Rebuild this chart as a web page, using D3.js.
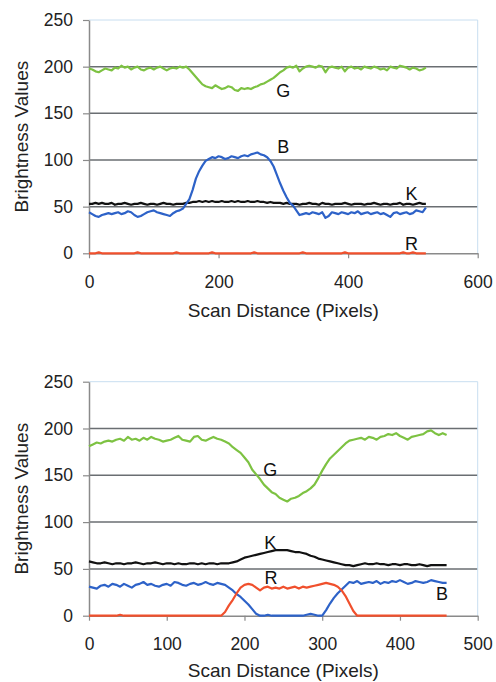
<!DOCTYPE html>
<html>
<head>
<meta charset="utf-8">
<script src="https://cdn.jsdelivr.net/npm/d3@7"></script>
<style>
  body { margin: 0; background: #fff; }
  svg text { font-family: "Liberation Sans", Arial, Helvetica, sans-serif; }
</style>
</head>
<body>
<div id="chart"></div>
<script>
// ---- top scan: samples every 5 px, 0..520 ----
var topStep = 5;
var topG = [
  198,197,195,194,196,198,197,196,199,198,
  201,199,200,197,199,200,197,196,198,199,
  197,199,200,198,196,198,199,198,200,199,
  200,197,193,189,185,181,179,178,177,180,
  178,176,177,179,178,175,174,177,176,177,
  176,178,179,181,182,184,186,188,191,194,
  196,199,200,199,201,195,198,200,201,200,
  199,201,200,194,199,200,199,198,200,195,
  199,200,198,199,197,200,199,198,200,199,
  197,198,196,200,199,198,201,200,199,197,
  199,198,196,197,199];
var topB = [
  44,42,40,39,41,42,43,42,43,44,
  42,43,45,44,41,39,40,42,44,45,
  46,44,43,42,41,40,43,45,46,48,
  53,58,68,80,88,94,99,101,103,102,
  104,103,101,102,104,103,102,104,105,104,
  106,107,108,106,105,103,99,93,84,75,
  67,60,54,51,46,41,42,43,42,44,
  43,42,44,38,40,44,43,42,44,43,
  42,44,43,45,42,43,44,42,43,44,
  42,43,41,39,43,44,42,43,44,42,
  43,46,45,44,49];
var topK = [
  53,53,54,53,54,53,53,54,52,53,
  53,54,53,52,53,53,54,53,52,53,
  53,52,53,54,53,53,52,53,53,53,
  54,54,55,55,56,55,56,55,56,55,
  55,56,55,55,56,55,56,55,55,56,
  55,55,56,55,55,54,55,54,54,54,
  53,54,53,53,53,52,53,53,54,53,
  53,52,54,53,53,52,53,53,53,54,
  53,52,53,53,53,52,53,53,54,53,
  52,53,53,52,53,53,54,52,53,53,
  52,53,54,53,53];
var topR = [
  0,0,0,1,0,0,0,0,0,0,
  0,0,0,0,0,1,0,0,0,0,
  0,0,0,0,0,0,0,1,0,0,
  0,0,0,0,0,0,0,0,1,0,
  0,0,0,0,0,0,0,0,0,0,
  0,1,0,0,0,0,0,0,0,0,
  0,0,0,0,0,0,1,0,0,0,
  0,0,0,0,0,0,0,0,0,1,
  0,0,0,0,0,0,0,0,0,0,
  0,0,0,0,0,0,0,1,0,0,
  1,0,0,0,0];

// ---- bottom scan: samples every 5 px, 0..460 ----
var botStep = 5;
var botG = [
  181,183,185,184,186,187,186,188,189,187,
  191,188,189,187,190,188,191,189,188,186,
  187,188,190,192,188,187,186,191,192,188,
  187,189,191,189,188,186,184,180,177,174,
  169,164,156,151,146,140,136,132,130,126,
  124,122,125,126,128,131,133,136,140,147,
  155,162,168,172,176,180,184,187,188,189,
  190,188,191,190,188,191,192,194,193,195,
  192,190,188,191,192,193,194,197,198,195,
  193,195,193];
var botK = [
  58,57,56,56,57,56,55,56,56,55,
  56,56,57,56,55,56,56,57,56,55,
  56,56,55,56,55,55,56,56,55,56,
  55,56,56,55,56,56,56,57,58,60,
  62,63,64,65,66,67,68,69,70,70,
  70,70,69,68,68,67,66,64,63,61,
  60,59,58,57,56,55,54,54,53,54,
  55,56,55,55,56,55,55,54,55,55,
  54,55,55,54,54,55,54,53,54,54,
  54,54,54];
var botB = [
  31,30,29,32,33,31,34,33,31,34,
  32,30,33,34,36,33,34,32,31,33,
  34,32,36,35,33,32,34,35,33,34,
  36,34,33,35,34,33,30,27,23,20,
  16,12,7,2,0,0,1,0,0,0,
  0,0,0,0,0,0,1,2,1,0,
  0,6,13,19,24,28,32,36,35,37,
  34,35,36,35,37,34,36,35,37,36,
  38,36,34,35,37,36,35,36,38,37,
  36,35,35];
var botR = [
  0,0,0,0,0,0,0,0,1,0,
  0,0,0,0,0,0,0,0,0,0,
  0,0,0,0,0,0,0,0,0,0,
  0,0,0,0,0,4,11,17,24,30,
  33,34,33,30,27,30,31,29,30,29,
  31,29,30,31,29,31,30,31,32,33,
  34,35,34,33,31,27,21,13,5,0,
  0,0,0,0,0,0,0,0,0,0,
  0,0,0,0,0,0,0,0,0,0,
  0,0,0];

var yTicks = [0, 50, 100, 150, 200, 250];
var topXTicks = [0, 200, 400, 600];
var botXTicks = [0, 100, 200, 300, 400, 500];

// series labels, in data coordinates [x, value]
var topLabels = [["G", 300, 174], ["B", 300, 114], ["K", 498, 64], ["R", 498, 10]];
var botLabels = [["G", 233, 156], ["K", 233, 78], ["R", 234, 41], ["B", 454, 23]];

var colors = { R: "#f0502d", G: "#7dc242", B: "#2d62c8", K: "#111111" };

var width = 496, height = 682;
var svg = d3.select("#chart").append("svg")
    .attr("width", width)
    .attr("height", height);

function drawPanel(p) {
  var left = 89, right = 477.7;
  var x = d3.scaleLinear().domain([0, p.xMax]).range([left, right]);
  var y = d3.scaleLinear().domain([0, 250]).range([p.bottom, p.top]);
  var g = svg.append("g");

  // gridlines
  g.selectAll("line.grid")
      .data([50, 100, 150, 200])
      .enter().append("line")
      .attr("class", "grid")
      .attr("x1", left).attr("x2", right)
      .attr("y1", function(d) { return y(d); })
      .attr("y2", function(d) { return y(d); })
      .attr("stroke", "#6a6e72")
      .attr("stroke-width", 1.5);

  // light plot-area border, top and right
  g.append("path")
      .attr("d", "M" + left + "," + y(250) + "H" + right + "V" + y(0))
      .attr("fill", "none")
      .attr("stroke", "#c8def0")
      .attr("stroke-width", 1);

  // axes
  var ya = g.append("g")
      .attr("transform", "translate(" + left + ",0)")
      .call(d3.axisLeft(y).tickValues(yTicks).tickSize(6).tickSizeOuter(0).tickPadding(10));
  var xa = g.append("g")
      .attr("transform", "translate(0," + y(0) + ")")
      .call(d3.axisBottom(x).tickValues(p.xTicks).tickSize(5).tickSizeOuter(0).tickPadding(17));
  [ya, xa].forEach(function(a) {
    a.select(".domain").attr("stroke", "#8a8a8a").attr("stroke-width", 1.5);
    a.selectAll(".tick line").attr("stroke", "#8a8a8a").attr("stroke-width", 1.2);
    a.selectAll(".tick text")
        .attr("font-size", "17.5px")
        .attr("font-family", "Liberation Sans, Arial, sans-serif")
        .attr("fill", "#222");
  });

  // data lines
  var line = d3.line()
      .x(function(d, i) { return x(i * p.step); })
      .y(function(d) { return y(d); });

  p.series.forEach(function(s) {
    g.append("path")
        .datum(s.values)
        .attr("fill", "none")
        .attr("stroke", colors[s.key])
        .attr("stroke-width", 2.2)
        .attr("stroke-linejoin", "round")
        .attr("d", line);
  });

  // series letters
  g.selectAll("text.lab")
      .data(p.labels)
      .enter().append("text")
      .attr("class", "lab")
      .attr("x", function(d) { return x(d[1]); })
      .attr("y", function(d) { return y(d[2]); })
      .attr("dy", "0.35em")
      .attr("text-anchor", "middle")
      .attr("font-size", "18px")
      .attr("fill", "#111")
      .text(function(d) { return d[0]; });

  // titles
  g.append("text")
      .attr("transform", "translate(21," + ((p.top + p.bottom) / 2) + ") rotate(-90)")
      .attr("dy", "0.35em")
      .attr("text-anchor", "middle")
      .attr("font-size", "19px")
      .attr("fill", "#222")
      .text("Brightness Values");

  g.append("text")
      .attr("x", (left + right) / 2)
      .attr("y", p.titleY)
      .attr("text-anchor", "middle")
      .attr("font-size", "19px")
      .attr("fill", "#222")
      .text("Scan Distance (Pixels)");
}

drawPanel({
  top: 20, bottom: 253.3, xMax: 600, xTicks: topXTicks, step: topStep, titleY: 317,
  labels: topLabels,
  series: [
    { key: "R", values: topR },
    { key: "G", values: topG },
    { key: "K", values: topK },
    { key: "B", values: topB }
  ]
});

drawPanel({
  top: 381.7, bottom: 615.7, xMax: 500, xTicks: botXTicks, step: botStep, titleY: 677,
  labels: botLabels,
  series: [
    { key: "G", values: botG },
    { key: "K", values: botK },
    { key: "B", values: botB },
    { key: "R", values: botR }
  ]
});
</script>
</body>
</html>
